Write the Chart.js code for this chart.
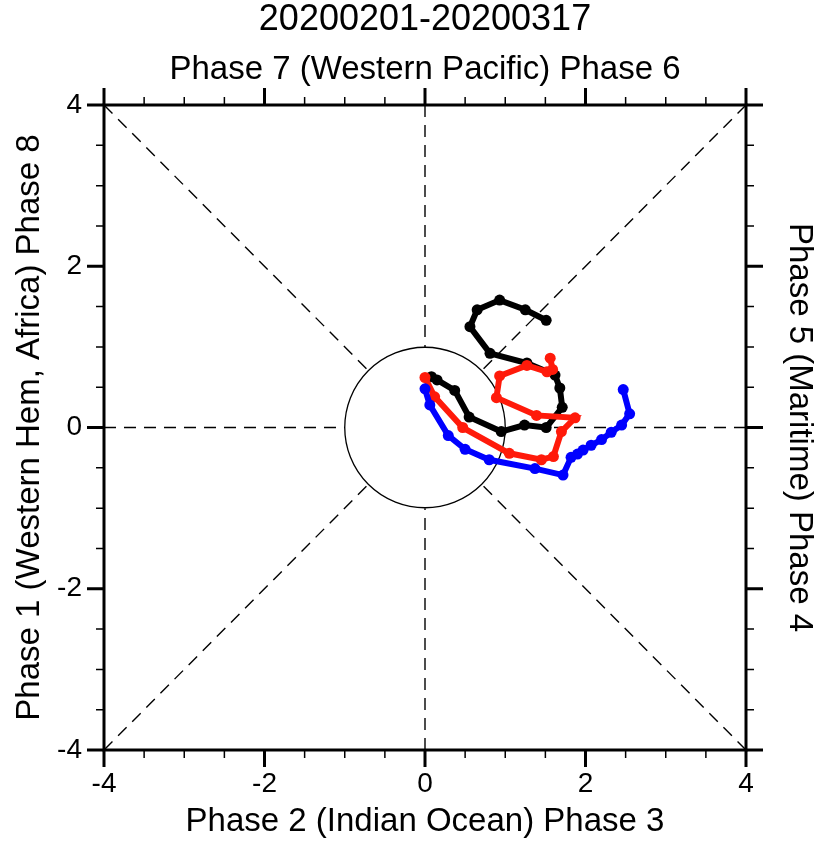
<!DOCTYPE html>
<html lang="en">
<head>
    <meta charset="UTF-8">
    <title>MJO Phase Diagram</title>
    <style>
        html, body { margin: 0; padding: 0; background: #fff; }
        canvas { display: block; }
    </style>
</head>
<body>
        <canvas id="myChart" width="817" height="841"></canvas>

        <script src="https://cdn.jsdelivr.net/npm/chart.js@4.4.0/dist/chart.umd.min.js"></script>

        <script>
            // RMM1 / RMM2 values, one list per colour segment
            var blackRmm1 = [0.08, 0.15, 0.37, 0.55, 0.95, 1.24, 1.51, 1.71, 1.68, 1.62, 1.27, 0.81, 0.56, 0.65, 0.93, 1.25, 1.51];
            var blackRmm2 = [0.63, 0.59, 0.46, 0.13, -0.05, 0.03, 0.00, 0.25, 0.49, 0.65, 0.80, 0.92, 1.25, 1.46, 1.58, 1.46, 1.33];

            var redRmm1 = [0.00, 0.12, 0.47, 1.05, 1.45, 1.60, 1.70, 1.87, 1.39, 0.89, 0.93, 1.27, 1.52, 1.59, 1.56];
            var redRmm2 = [0.62, 0.38, 0.00, -0.32, -0.40, -0.36, -0.05, 0.12, 0.15, 0.37, 0.64, 0.77, 0.69, 0.72, 0.86];

            var blueRmm1 = [0.00, 0.06, 0.29, 0.50, 0.80, 1.37, 1.72, 1.82, 1.90, 1.97, 2.07, 2.20, 2.32, 2.45, 2.55, 2.47];
            var blueRmm2 = [0.48, 0.28, -0.10, -0.27, -0.40, -0.51, -0.59, -0.37, -0.33, -0.28, -0.22, -0.15, -0.06, 0.03, 0.17, 0.47];

            var axisMin = -4;
            var axisMax = 4;
            var majorTicks = [-4, -2, 0, 2, 4];

            var fontFamily = "'Liberation Sans', Arial, Helvetica, sans-serif";

            function toPoints(xs, ys){
                var pts = [];
                for(var i = 0; i < xs.length; i++){
                    pts.push({x: xs[i], y: ys[i]});
                }
                return pts;
            }

            function track(data, color, order){
                return {
                    data: data,
                    showLine: true,
                    borderColor: color,
                    backgroundColor: color,
                    borderWidth: 6,
                    pointRadius: 5.5,
                    pointBorderWidth: 0,
                    order: order
                };
            }

            // dashed phase lines, unit circle, frame and tick marks
            var phaseGuides = {
                id: 'phaseGuides',
                beforeDatasetsDraw: function(chart){
                    var ctx = chart.ctx;
                    var xs = chart.scales.x, ys = chart.scales.y;
                    var cx = xs.getPixelForValue(0), cy = ys.getPixelForValue(0);
                    var r = xs.getPixelForValue(1) - cx;
                    var ends = [[axisMax, 0], [axisMin, 0], [0, axisMax], [0, axisMin],
                                [axisMax, axisMax], [axisMin, axisMax], [axisMax, axisMin], [axisMin, axisMin]];
                    ctx.save();
                    ctx.strokeStyle = '#000';
                    ctx.lineWidth = 1.4;
                    ctx.setLineDash([12, 8]);
                    ends.forEach(function(e){
                        var len = Math.sqrt(e[0] * e[0] + e[1] * e[1]);
                        ctx.beginPath();
                        ctx.moveTo(xs.getPixelForValue(e[0]), ys.getPixelForValue(e[1]));
                        ctx.lineTo(xs.getPixelForValue(e[0] / len), ys.getPixelForValue(e[1] / len));
                        ctx.stroke();
                    });
                    ctx.setLineDash([]);
                    ctx.lineWidth = 1.3;
                    ctx.beginPath();
                    ctx.arc(cx, cy, r, 0, Math.PI * 2);
                    ctx.stroke();
                    ctx.restore();
                },
                afterDraw: function(chart){
                    var ctx = chart.ctx;
                    var a = chart.chartArea;
                    var xs = chart.scales.x, ys = chart.scales.y;
                    ctx.save();
                    ctx.strokeStyle = '#000';
                    ctx.lineWidth = 3;
                    ctx.strokeRect(a.left, a.top, a.right - a.left, a.bottom - a.top);
                    for(var v = axisMin; v <= axisMax + 0.001; v += 0.5){
                        var major = majorTicks.indexOf(v) >= 0;
                        var len = major ? 17 : 8;
                        ctx.lineWidth = major ? 3 : 1.5;
                        var px = xs.getPixelForValue(v), py = ys.getPixelForValue(v);
                        ctx.beginPath();
                        ctx.moveTo(px, a.bottom); ctx.lineTo(px, a.bottom + len);
                        ctx.moveTo(px, a.top); ctx.lineTo(px, a.top - len);
                        ctx.moveTo(a.left, py); ctx.lineTo(a.left - len, py);
                        ctx.moveTo(a.right, py); ctx.lineTo(a.right + len, py);
                        ctx.stroke();
                    }
                    ctx.restore();
                }
            };

            function hiddenGrid(){
                return {display: false, drawTicks: false};
            }

            function axisTitle(text, pad){
                return {
                    display: true, text: text, color: '#000',
                    font: { family: fontFamily, size: 33, lineHeight: 1.1 },
                    padding: { top: pad, bottom: pad }
                };
            }

            function createChart(){
                var ctx = document.getElementById("myChart").getContext("2d");
                var myChart = new Chart(ctx, {
                    type: 'scatter',
                    data: {
                        datasets: [
                            track(toPoints(blueRmm1, blueRmm2), '#0000ff', 1),
                            track(toPoints(redRmm1, redRmm2), '#ff1a0a', 2),
                            track(toPoints(blackRmm1, blackRmm2), '#000000', 3)
                        ]
                    },
                    options: {
                        responsive: false,
                        animation: false,
                        layout: { padding: 0 },
                        plugins: {
                            legend: { display: false },
                            tooltip: { enabled: false },
                            title: {
                                display: true,
                                fullSize: false,
                                text: '20200201-20200317',
                                color: '#000',
                                font: { family: fontFamily, size: 36, weight: 'normal', lineHeight: 1 },
                                padding: { top: 2, bottom: 0 }
                            }
                        },
                        scales: {
                            x: {
                                type: 'linear', position: 'bottom', min: axisMin, max: axisMax,
                                grid: hiddenGrid(), border: { display: false },
                                ticks: { stepSize: 2, padding: 17, maxRotation: 0, autoSkip: false, color: '#000',
                                         font: { family: fontFamily, size: 28 } },
                                title: axisTitle('Phase 2 (Indian Ocean) Phase 3', 1),
                                afterFit: function(s){ s.height = 91; }
                            },
                            x2: {
                                type: 'linear', position: 'top', min: axisMin, max: axisMax,
                                grid: hiddenGrid(), border: { display: false },
                                ticks: { display: false },
                                title: axisTitle('Phase 7 (Western Pacific) Phase 6', 14),
                                afterFit: function(s){ s.height = 67; }
                            },
                            y: {
                                type: 'linear', position: 'left', min: axisMin, max: axisMax,
                                grid: hiddenGrid(), border: { display: false },
                                ticks: { stepSize: 2, padding: 22, autoSkip: false, color: '#000',
                                         font: { family: fontFamily, size: 28 } },
                                title: axisTitle('Phase 1 (Western Hem, Africa) Phase 8', 12),
                                afterFit: function(s){ s.width = 104; }
                            },
                            y2: {
                                type: 'linear', position: 'right', min: axisMin, max: axisMax,
                                grid: hiddenGrid(), border: { display: false },
                                ticks: { display: false },
                                title: axisTitle('Phase 5 (Maritime) Phase 4', 0),
                                afterFit: function(s){ s.width = 71; }
                            }
                        }
                    },
                    plugins: [phaseGuides]
                });
            }
            createChart();
        </script>
</body>
</html>
